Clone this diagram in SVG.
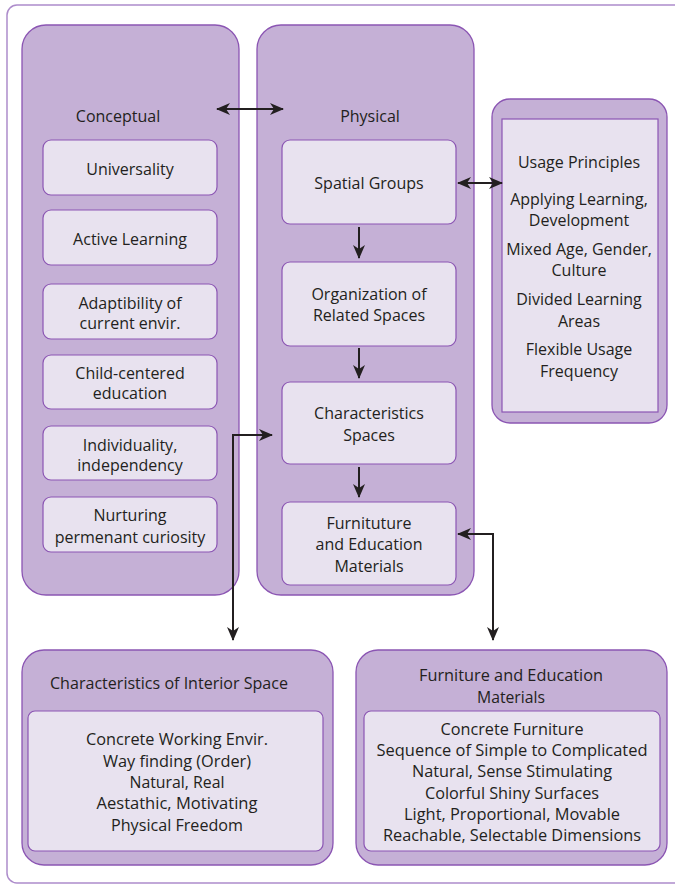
<svg xmlns="http://www.w3.org/2000/svg" width="675" height="884" viewBox="0 0 675 884">
<defs>
<style>
.frame{fill:#ffffff;stroke:#ad8ccb;stroke-width:1.5}
.panel{fill:#c5b0d6;stroke:#8b55b3;stroke-width:1.3}
.box{fill:#e8e2ef;stroke:#8b55b3;stroke-width:1.2}
text{font-family:"Open Sans","Noto Sans","Liberation Sans",sans-serif;font-size:16px;fill:#231f20;text-anchor:middle}
.n{font-size:17px}
.conn{fill:none;stroke:#231f20;stroke-width:2}
</style>
<marker id="ah" viewBox="0 0 14 12" refX="13" refY="6" markerWidth="14" markerHeight="12" markerUnits="userSpaceOnUse" orient="auto-start-reverse">
<path d="M0,0 L14,6 L0,12 L4,6 z" fill="#231f20"/>
</marker>
</defs>
<rect class="frame" x="7" y="5" width="690" height="878" rx="10"/>

<g id="conceptual">
<rect class="panel" x="22" y="25" width="217" height="570" rx="24"/>
<text x="118" y="122">Conceptual</text>
</g>
<g id="universality"><rect class="box" x="43" y="140" width="174" height="55" rx="8"/><text x="130" y="175">Universality</text></g>
<g id="active-learning"><rect class="box" x="43" y="210" width="174" height="55" rx="8"/><text x="130" y="245">Active Learning</text></g>
<g id="adaptibility"><rect class="box" x="43" y="284" width="174" height="55" rx="8"/><text x="130" y="309">Adaptibility of</text><text x="130" y="329">current envir.</text></g>
<g id="child-centered"><rect class="box" x="43" y="355" width="174" height="54" rx="8"/><text x="130" y="379">Child-centered</text><text x="130" y="399">education</text></g>
<g id="individuality"><rect class="box" x="43" y="426" width="174" height="54" rx="8"/><text x="130" y="451">Individuality,</text><text x="130" y="471">independency</text></g>
<g id="nurturing"><rect class="box" x="43" y="497" width="174" height="55" rx="8"/><text x="130" y="521">Nurturing</text><text x="130" y="543">permenant curiosity</text></g>

<g id="physical">
<rect class="panel" x="257" y="25" width="217" height="570" rx="24"/>
<text x="370" y="122">Physical</text>
</g>
<g id="spatial-groups"><rect class="box" x="282" y="140" width="174" height="84" rx="8"/><text x="369" y="189">Spatial Groups</text></g>
<g id="organization"><rect class="box" x="282" y="262" width="174" height="84" rx="8"/><text x="369" y="300">Organization of</text><text x="369" y="321">Related Spaces</text></g>
<g id="characteristics-spaces"><rect class="box" x="282" y="382" width="174" height="82" rx="8"/><text x="369" y="419">Characteristics</text><text x="369" y="441">Spaces</text></g>
<g id="furniture-materials"><rect class="box" x="282" y="502" width="174" height="83" rx="8"/><text x="369" y="529">Furnituture</text><text x="369" y="550">and Education</text><text x="369" y="572">Materials</text></g>

<g id="usage-principles">
<rect class="panel" x="492" y="99" width="175" height="324" rx="18"/>
<rect class="box" x="502" y="119" width="156" height="293" rx="0"/>
<text x="579" y="168">Usage Principles</text>
<text x="579" y="205">Applying Learning,</text>
<text x="579" y="226">Development</text>
<text x="579" y="255">Mixed Age, Gender,</text>
<text x="579" y="276">Culture</text>
<text x="579" y="305">Divided Learning</text>
<text x="579" y="327">Areas</text>
<text x="579" y="355">Flexible Usage</text>
<text x="579" y="377">Frequency</text>
</g>

<g id="interior-space">
<rect class="panel" x="22" y="650" width="311" height="215" rx="22"/>
<rect class="box" x="28" y="711" width="295" height="140" rx="7"/>
<text class="n" x="169" y="689" textLength="238" lengthAdjust="spacingAndGlyphs">Characteristics of Interior Space</text>
<text class="n" x="177" y="745" textLength="182" lengthAdjust="spacingAndGlyphs">Concrete Working Envir.</text>
<text class="n" x="177" y="767" textLength="148" lengthAdjust="spacingAndGlyphs">Way finding (Order)</text>
<text class="n" x="177" y="788" textLength="95" lengthAdjust="spacingAndGlyphs">Natural, Real</text>
<text class="n" x="177" y="809" textLength="161" lengthAdjust="spacingAndGlyphs">Aestathic, Motivating</text>
<text class="n" x="177" y="831" textLength="132" lengthAdjust="spacingAndGlyphs">Physical Freedom</text>
</g>

<g id="furniture-education">
<rect class="panel" x="356" y="650" width="311" height="215" rx="22"/>
<rect class="box" x="364" y="711" width="296" height="140" rx="7"/>
<text class="n" x="511" y="681" textLength="184" lengthAdjust="spacingAndGlyphs">Furniture and Education</text>
<text class="n" x="511" y="703" textLength="68" lengthAdjust="spacingAndGlyphs">Materials</text>
<text class="n" x="512" y="735" textLength="143" lengthAdjust="spacingAndGlyphs">Concrete Furniture</text>
<text class="n" x="512" y="756" textLength="271" lengthAdjust="spacingAndGlyphs">Sequence of Simple to Complicated</text>
<text class="n" x="512" y="777" textLength="200" lengthAdjust="spacingAndGlyphs">Natural, Sense Stimulating</text>
<text class="n" x="512" y="799" textLength="174" lengthAdjust="spacingAndGlyphs">Colorful Shiny Surfaces</text>
<text class="n" x="512" y="820" textLength="216" lengthAdjust="spacingAndGlyphs">Light, Proportional, Movable</text>
<text class="n" x="512" y="841" textLength="258" lengthAdjust="spacingAndGlyphs">Reachable, Selectable Dimensions</text>
</g>

<g id="connectors">
<line class="conn" x1="217" y1="109" x2="283" y2="109" marker-start="url(#ah)" marker-end="url(#ah)"/>
<line class="conn" x1="458" y1="183" x2="502" y2="183" marker-start="url(#ah)" marker-end="url(#ah)"/>
<line class="conn" x1="359" y1="227" x2="359" y2="258" marker-end="url(#ah)"/>
<line class="conn" x1="359" y1="348" x2="359" y2="378" marker-end="url(#ah)"/>
<line class="conn" x1="359" y1="467" x2="359" y2="497" marker-end="url(#ah)"/>
<polyline class="conn" points="272,435 233,435 233,640" marker-start="url(#ah)" marker-end="url(#ah)"/>
<polyline class="conn" points="458,534 493,534 493,640" marker-start="url(#ah)" marker-end="url(#ah)"/>
</g>
</svg>
